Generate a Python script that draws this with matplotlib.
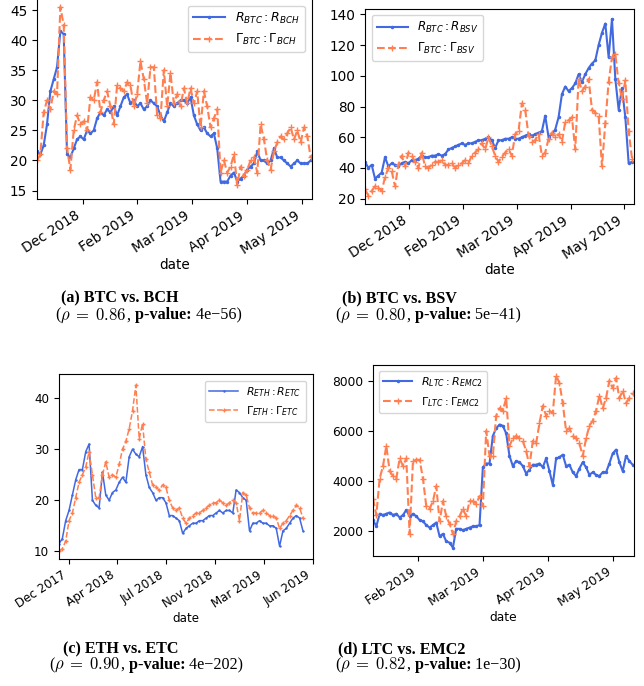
import numpy as np
import matplotlib
matplotlib.use('Agg')
from matplotlib import pyplot as plt

W, H = 644, 686
BLUE = 'royalblue'
ORANGE = 'coral'

# (a) BTC vs. BCH
a_R = [21.5, 21, 22.5, 26, 31.5, 33.5, 35.5, 41.5, 41, 21,
       20.5, 22, 23.5, 24, 23.5, 25, 24.5, 25, 27, 28,
       27.5, 28.5, 28, 29, 27.5, 29, 30.5, 31, 29.5, 30,
       29, 29.5, 28.5, 29, 30, 29.5, 29, 27.5, 26.5, 28,
       29.5, 29, 29.5, 30, 30, 29.5, 30.5, 27.5, 26, 25,
       25.5, 24.5, 24, 24.5, 22, 16.5, 16.5, 16.5, 17.5, 18,
       16.5, 17, 17.5, 18.5, 19, 19.5, 21.5, 20, 20, 19.5,
       20, 22, 20.5, 20.5, 20, 19.5, 19, 19.5, 20, 19.5,
       19.5, 19.5, 20]
a_G = [20, 21, 28, 30, 28.5, 31.5, 31, 45.5, 42.5, 22,
       18.5, 25, 27.5, 26, 26.5, 25, 30.5, 30, 33, 28,
       30, 31.5, 29, 26, 32.5, 32, 31.5, 33, 32.5, 29,
       31, 36.5, 33.5, 29.5, 35.5, 35.5, 27.5, 27, 35, 29,
       34.5, 29.5, 31, 29, 32, 29.5, 32, 29.5, 31.5, 25.5,
       31.5, 29, 25.5, 27, 28.5, 18, 20, 18, 19, 21,
       16, 19, 17.5, 18.5, 20, 20.5, 18, 26, 23.5, 20,
       18.5, 21.5, 23, 24, 23.5, 24.5, 25.5, 23.5, 25, 23,
       25.5, 24, 20.5]
a_tick_idx = [13.7, 30.0, 46.4, 62.9, 79.4]
a_tick_lab = ['Dec 2018', 'Feb 2019', 'Mar 2019', 'Apr 2019', 'May 2019']

# (b) BTC vs. BSV
b_R = [44, 40, 42, 33, 35, 37, 47, 41, 43, 42,
       41, 43, 44, 43, 45, 45, 46, 48, 47, 47,
       48, 48, 49, 48, 49, 52, 53, 54, 55, 56,
       55, 56, 56, 57, 58, 58, 59, 60, 58, 53,
       58, 58, 59, 59, 60, 59, 59, 60, 61, 62,
       61, 62, 63, 64, 74, 60, 62, 65, 73, 88,
       93, 90, 92, 95, 101, 96, 101, 105, 108, 110,
       120, 128, 134, 112, 137, 98, 78, 92, 73, 43,
       44]
b_G = [26, 22, 25, 28, 27, 25, 34, 40, 38, 28,
       42, 48, 41, 50, 48, 44, 40, 50, 41, 40,
       42, 44, 44, 45, 42, 42, 43, 40, 42, 43,
       45, 43, 48, 50, 52, 56, 52, 60, 54, 48,
       44, 47, 50, 52, 48, 62, 64, 82, 78, 61,
       57, 58, 62, 48, 50, 59, 63, 60, 62, 57,
       70, 71, 73, 52, 98, 90, 93, 98, 78, 76,
       74, 41, 69, 96, 112, 114, 95, 85, 97, 64,
       46]
b_tick_idx = [13.3, 29.5, 45.5, 61.6, 77.6]
b_tick_lab = ['Dec 2018', 'Feb 2019', 'Mar 2019', 'Apr 2019', 'May 2019']

# (c) ETH vs. ETC
c_R = [11.5, 12.5, 16, 18, 21, 24, 26, 26, 29.5, 31,
       20, 19, 18.5, 25.5, 21, 20, 21.5, 22, 23.5, 24.5,
       23.5, 28.5, 30, 29, 28.5, 30.5, 25, 22.5, 21.5, 20,
       20.5, 20.5, 19.5, 17, 17, 16.5, 16, 13.5, 14.5, 15,
       15.5, 15.5, 16, 16, 16.5, 17, 17, 17.5, 18, 17.5,
       18, 18, 17.5, 22, 21.5, 20.5, 20, 14, 15.5, 15.5,
       16, 15.5, 15.5, 15, 15, 14.5, 11, 14, 14.5, 15.5,
       16.5, 17, 16.5, 14]
c_G = [10, 10.5, 12, 16, 17.5, 20.5, 23.5, 25, 26.5, 29.5,
       25, 20.5, 20.5, 25, 27.5, 24.5, 25, 24.5, 27, 30,
       31.5, 34, 37.5, 42.5, 32, 35, 28, 25.5, 23, 22.5,
       22, 23, 22.5, 20, 18.5, 18, 18.5, 16.5, 15.5, 16.5,
       17, 17.5, 17.5, 18, 18.5, 19, 19.5, 19.5, 20, 19.5,
       19, 19.5, 20, 19.5, 16, 21.5, 21, 18.5, 17.5, 17.5,
       17.5, 18, 17.5, 17, 17, 16.5, 14.5, 15.5, 16, 17,
       18, 19, 18.5, 16.5]
c_tick_idx = [2.9, 17.4, 32.0, 46.7, 61.3, 75.9]
c_tick_lab = ['Dec 2017', 'Apr 2018', 'Jul 2018', 'Nov 2018', 'Mar 2019', 'Jun 2019']

# (d) LTC vs. EMC2
d_R = [2450, 2200, 2700, 2650, 2700, 2750, 2650, 2700, 2550, 2650,
       2850, 2600, 2700, 2600, 2450, 2400, 2250, 2150, 2250, 2350,
       1800, 1900, 1600, 1550, 1350, 2100, 2100, 2050, 2100, 2150,
       2200, 2200, 2250, 4550, 4700, 4700, 5800, 6100, 6250, 6200,
       5900, 5000, 4600, 4800, 4750, 4600, 4300, 4450, 4650, 4650,
       4700, 4550, 4900, 4400, 3850, 4900, 4950, 5050, 4600, 4650,
       4350, 4200, 4500, 4750, 4550, 4250, 4350, 4250, 4200, 4350,
       4350, 4700, 5100, 5250, 4750, 4400, 5000, 4800, 4650]
d_G = [3300, 2650, 4100, 4600, 5400, 4400, 4200, 4100, 4900, 4600,
       4900, 1900, 4800, 4850, 4850, 4100, 3000, 2900, 3200, 3800,
       2400, 3200, 2600, 2300, 1900, 2400, 2600, 2900, 2600, 3200,
       3200, 3100, 3400, 3000, 6000, 5000, 5000, 6600, 6900, 6800,
       7300, 5400, 5700, 5800, 5700, 5600, 5200, 4600, 5600, 5500,
       6300, 7000, 6600, 6800, 6700, 8200, 7900, 7100, 6000, 6100,
       5800, 5700, 5500, 5000, 5700, 6200, 6400, 6800, 7400, 6900,
       7300, 8000, 7700, 8100, 7300, 7600, 7100, 7300, 7500]
d_tick_idx = [13.5, 33.0, 52.6, 72.2]
d_tick_lab = ['Feb 2019', 'Mar 2019', 'Apr 2019', 'May 2019']


def px_rect(l, t, r, b):
  return [l / W, 1 - b / H, (r - l) / W, (b - t) / H]


def panel(fig, box, R, G, ticks, labels, xmax, ylim, names, anchor, loc, fs, lfs, ms, lw):
  ax = fig.add_axes(px_rect(*box))
  x = np.arange(len(R))
  ax.plot(x, R, color=BLUE, marker='.', ms=ms, lw=lw, label=names[0])
  ax.plot(x, G, color=ORANGE, ls='--', marker='+', ms=ms + 1.5, lw=lw, label=names[1])
  ax.set_xlim(0, xmax)
  ax.set_ylim(*ylim)
  ax.set_xticks(ticks)
  ax.set_xticklabels(labels, rotation=33, ha='right', fontsize=fs)
  ax.tick_params(axis='y', labelsize=fs)
  ax.set_xlabel('date', fontsize=fs, labelpad=1)
  ax.legend(loc=loc, bbox_to_anchor=anchor, borderaxespad=0, fontsize=lfs,
            handlelength=2.6)
  return ax


def caption(fig, x_px, y_px, pieces, size=11.6):
  #place text pieces one after another on the same baseline
  r = fig.canvas.get_renderer()
  x = x_px
  for s, kw in pieces:
    kw = dict(kw)
    fs = kw.pop('size', size)
    t = fig.text(x / W, 1 - y_px / H, s, ha='left', va='baseline', fontsize=fs,
                 family=['Liberation Serif', 'DejaVu Serif'], **kw)
    x += t.get_window_extent(r).width


def stats_line(fig, x_px, y_px, rho, pval):
  caption(fig, x_px, y_px, [
    ('(', {}),
    (r'$\rho\;=\;%s$' % rho, {'math_fontfamily': 'cm', 'size': 12.0}),
    (',', {}),
    (' p-value:', {'weight': 'bold'}),
    (' ' + pval + ')', {}),
  ])


def main():
  fig = plt.figure(figsize=(W / 100, H / 100), dpi=100)

  panel(fig, (37, -5, 312, 199), a_R, a_G, a_tick_idx, a_tick_lab, 82.4, (13.6, 47.5),
        [r'$R_{BTC} : R_{BCH}$', r'$\Gamma_{BTC} : \Gamma_{BCH}$'],
        (0.9745, 0.9475), 'upper right', 9.8, 9.0, 3, 1.5)
  panel(fig, (365, 9, 634, 204), b_R, b_G, b_tick_idx, b_tick_lab, 80.6, (16.5, 143.5),
        [r'$R_{BTC} : R_{BSV}$', r'$\Gamma_{BTC} : \Gamma_{BSV}$'],
        (0.026, 0.969), 'upper left', 9.8, 8.6, 3, 1.5)
  panel(fig, (59, 374, 313, 559), c_R, c_G, c_tick_idx, c_tick_lab, 76, (8.5, 44.7),
        [r'$R_{ETH} : R_{ETC}$', r'$\Gamma_{ETH} : \Gamma_{ETC}$'],
        (0.972, 0.964), 'upper right', 8.6, 7.8, 1.5, 1.1)
  panel(fig, (373, 365, 634, 556), d_R, d_G, d_tick_idx, d_tick_lab, 78.4, (1019, 8620),
        [r'$R_{LTC} : R_{EMC2}$', r'$\Gamma_{LTC} : \Gamma_{EMC2}$'],
        (0.023, 0.969), 'upper left', 8.8, 8.0, 3, 1.5)

  caption(fig, 61, 302.5, [('(a) BTC vs. BCH', {'weight': 'bold'})])
  stats_line(fig, 55, 319.5, '0.86', '4e\u221256')
  caption(fig, 342, 302.5, [('(b) BTC vs. BSV', {'weight': 'bold'})])
  stats_line(fig, 335, 319.5, '0.80', '5e\u221241')
  caption(fig, 63, 653, [('(c) ETH vs. ETC', {'weight': 'bold'})])
  stats_line(fig, 49, 669, '0.90', '4e\u2212202')
  caption(fig, 338, 653, [('(d) LTC vs. EMC2', {'weight': 'bold'})])
  stats_line(fig, 335, 669, '0.82', '1e\u221230')

  fig.savefig('out.png', dpi=100)


if __name__ == '__main__':
  main()
